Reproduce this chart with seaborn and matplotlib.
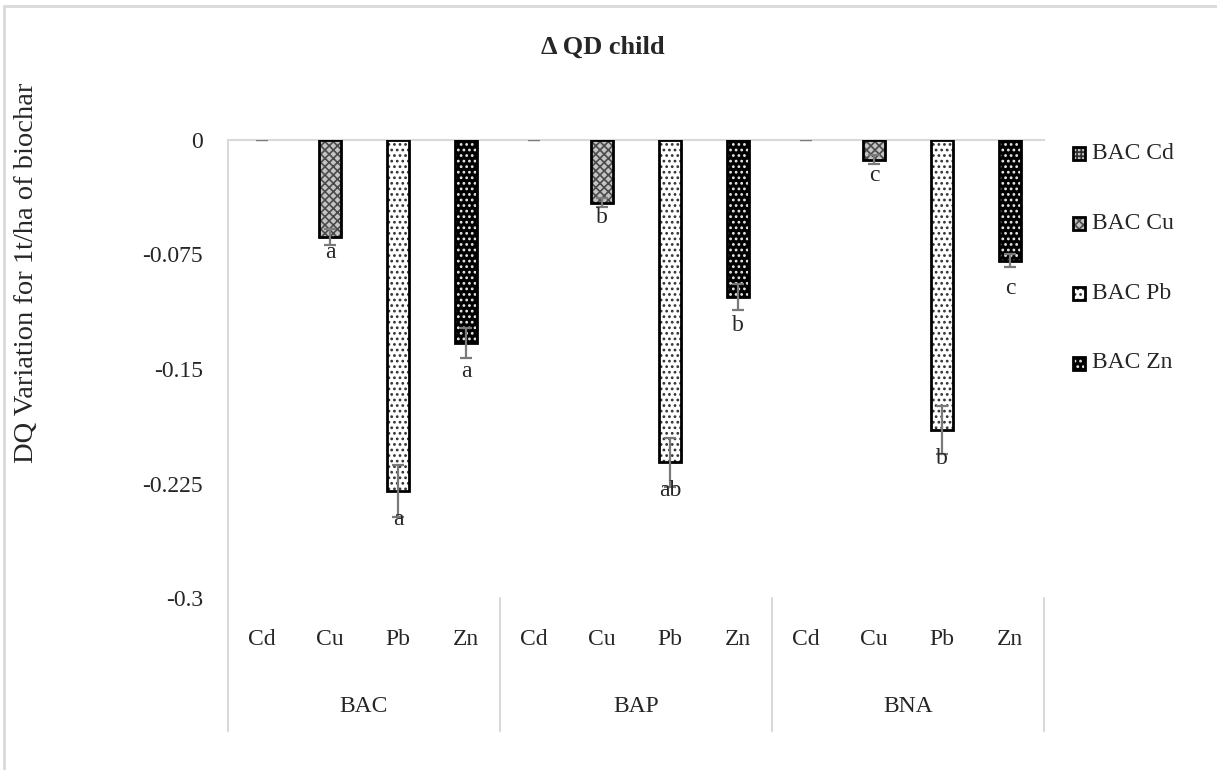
import numpy as np
import pandas as pd
import matplotlib
matplotlib.use("Agg")
import matplotlib.pyplot as plt
from matplotlib.patches import Rectangle, Patch
from matplotlib.lines import Line2D
import matplotlib.transforms as mtransforms
import seaborn as sns

# ---------------- data ----------------
groups = ["BAC", "BAP", "BNA"]
metals = ["Cd", "Cu", "Pb", "Zn"]
values_BAC = [0.0, -0.0635, -0.230, -0.133]
values_BAP = [0.0, -0.041, -0.211, -0.103]
values_BNA = [0.0, -0.013, -0.190, -0.079]
err_BAC = [0.0, 0.005, 0.017, 0.010]
err_BAP = [0.0, 0.003, 0.016, 0.0085]
err_BNA = [0.0, 0.003, 0.016, 0.0045]
letters_BAC = ["", "a", "a", "a"]
letters_BAP = ["", "b", "ab", "b"]
letters_BNA = ["", "c", "b", "c"]
legend_labels = ["BAC Cd", "BAC Cu", "BAC Pb", "BAC Zn"]
yticks = [0, -0.075, -0.15, -0.225, -0.3]
ytick_labels = ["0", "-0.075", "-0.15", "-0.225", "-0.3"]

rows = []
for g, vals, errs, lets in zip(groups,
                               [values_BAC, values_BAP, values_BNA],
                               [err_BAC, err_BAP, err_BNA],
                               [letters_BAC, letters_BAP, letters_BNA]):
    for m, v, e, l in zip(metals, vals, errs, lets):
        rows.append(dict(group=g, metal=m, cat=f"{g} {m}", value=v, err=e, letter=l))
df = pd.DataFrame(rows)
cat_order = list(df["cat"])

# ---------------- style ----------------
sns.set_style("white")
plt.rcParams["font.family"] = ["Liberation Serif", "DejaVu Serif"]
plt.rcParams["hatch.linewidth"] = 1.2
FS = 17

fig = plt.figure(figsize=(12.17, 7.7), dpi=100)
ax = fig.add_axes([228 / 1217, 1 - 598 / 770, (1044 - 228) / 1217, (598 - 140) / 770])

sns.barplot(data=df, x="cat", y="value", hue="metal", order=cat_order,
            hue_order=metals, dodge=False, width=0.32, errorbar=None,
            legend=False, ax=ax)

styles = {
    "Cd": dict(face="#bdbdbd", hatch="++++", hc="#2a2a2a", loff=0.01),
    "Cu": dict(face="#c4c4c4", hatch="xxxx", hc="#4a4a4a", loff=0.01),
    "Pb": dict(face="white", hatch="...", hc="#333333", loff=0.0185),
    "Zn": dict(face="black", hatch="...", hc="#e8e8e8", loff=0.0185),
}

for p in list(ax.patches):
    cx = p.get_x() + p.get_width() / 2
    idx = int(round(cx))
    m = df.loc[idx, "metal"]
    st = styles[m]
    p.set_facecolor(st["face"])
    p.set_edgecolor(st["hc"])
    p.set_hatch(st["hatch"])
    p.set_linewidth(0)
    if abs(p.get_height()) > 1e-9:
        ax.add_patch(Rectangle(p.get_xy(), p.get_width(), p.get_height(),
                               fill=False, edgecolor="black", linewidth=2.0, zorder=3))

# error bars
xs = np.arange(len(df))
ax.errorbar(xs, df["value"], yerr=df["err"], fmt="none", ecolor="#7a7a7a",
            elinewidth=1.6, capsize=4.5, capthick=1.6, zorder=4)

# letters
for x, v, m, l in zip(xs, df["value"], df["metal"], df["letter"]):
    if l:
        ax.text(x, v - styles[m]["loff"], l, ha="center", va="center",
                fontsize=FS, zorder=5)

ax.set_xlim(-0.5, len(df) - 0.5)
ax.set_ylim(-0.3, 0)
ax.set_yticks(yticks)
ax.set_yticklabels(ytick_labels, fontsize=FS)
ax.set_xticks(xs)
ax.set_xticklabels(list(df["metal"]), fontsize=FS)
ax.tick_params(axis="both", length=0)
ax.tick_params(axis="x", pad=22)
ax.tick_params(axis="y", pad=18)
ax.set_xlabel("")
ax.set_ylabel("")

for s in ["right", "bottom", "left"]:
    ax.spines[s].set_visible(False)
ax.spines["top"].set_color("#d9d9d9")
ax.spines["top"].set_linewidth(1.5)

# left axis line (extends into category area)
ax.plot([0, 0], [1, -0.29], transform=ax.transAxes, color="#d9d9d9",
        lw=1.5, clip_on=False)
# group separators
trans = mtransforms.blended_transform_factory(ax.transData, ax.transAxes)
for b in [3.5, 7.5, 11.5]:
    ax.plot([b, b], [0, -0.29], transform=trans, color="#d9d9d9", lw=1.5, clip_on=False)
for i, g in enumerate(groups):
    ax.text(i * 4 + 1.5, -0.236, g, transform=trans, ha="center", va="center", fontsize=FS)


# legend with custom hatched boxes
class HatchBoxHandler:
    def legend_artist(self, legend, orig_handle, fontsize, handlebox):
        x0, y0 = handlebox.xdescent, handlebox.ydescent
        w, h = handlebox.width, handlebox.height
        tr = handlebox.get_transform()
        face = Rectangle((x0, y0), w, h, facecolor=orig_handle.get_facecolor(),
                         edgecolor=orig_handle.get_edgecolor(),
                         hatch=orig_handle.get_hatch(), linewidth=0, transform=tr)
        edge = Rectangle((x0, y0), w, h, fill=False, edgecolor="black",
                         linewidth=2.0, transform=tr)
        handlebox.add_artist(face)
        handlebox.add_artist(edge)
        return face


handles = [Patch(facecolor=styles[m]["face"], edgecolor=styles[m]["hc"],
                 hatch=styles[m]["hatch"]) for m in metals]
leg = fig.legend(handles, legend_labels, loc="upper left",
                 bbox_to_anchor=(1061 / 1217, 1 - 131 / 770),
                 frameon=False, fontsize=FS, handlelength=0.5, handleheight=0.5,
                 handletextpad=0.3, labelspacing=2.07, borderpad=0,
                 handler_map={Patch: HatchBoxHandler()})

# title and y label
fig.text(603 / 1217, 1 - 47 / 770, "\u0394 QD child", ha="center", va="center",
         fontsize=19, fontweight="bold")
fig.text(27 / 1217, 1 - 273 / 770, "DQ Variation for 1t/ha of biochar", rotation=90,
         ha="center", va="center", fontsize=20.5)

# chart area border
fig.add_artist(Line2D([4 / 1217, 4 / 1217], [0, 1 - 6 / 770], transform=fig.transFigure,
                      color="#d9d9d9", lw=2))
fig.add_artist(Line2D([4 / 1217, 1], [1 - 6 / 770, 1 - 6 / 770], transform=fig.transFigure,
                      color="#d9d9d9", lw=2))

fig.savefig("out.png", dpi=100)
